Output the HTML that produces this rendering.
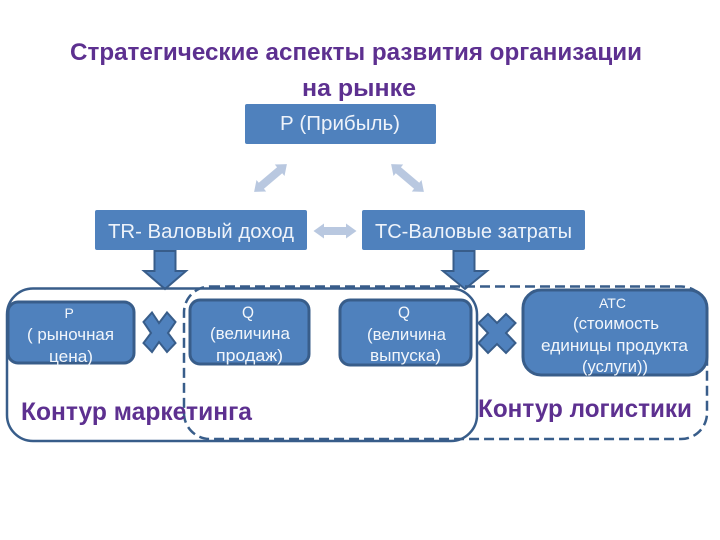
<!DOCTYPE html>
<html><head><meta charset="utf-8">
<style>
html,body{margin:0;padding:0;background:#fff}
svg{display:block}
text{font-family:"Liberation Sans","DejaVu Sans",sans-serif}
.t{font-weight:bold;fill:#5d3090;font-size:24px}
.h{font-weight:bold;fill:#5d3090;font-size:25px}
.w{fill:#eef3fa;font-size:20px}
.s{fill:#f2f6fb;font-size:16.5px}
.c{fill:#f2f6fb;font-size:14px}
.b{fill:#4f81bd;stroke:#385d8a;stroke-width:3}
.a{fill:#4f81bd;stroke:#385d8a;stroke-width:2}
.l{fill:#b9c8e0}
</style></head>
<body>
<svg width="720" height="540" viewBox="0 0 720 540" xmlns="http://www.w3.org/2000/svg">
<rect width="720" height="540" fill="#fff"/>
<text class="t" x="70" y="60" textLength="572" lengthAdjust="spacingAndGlyphs">Стратегические аспекты развития организации</text>
<text class="t" x="302" y="96" textLength="114" lengthAdjust="spacingAndGlyphs">на рынке</text>

<rect x="245" y="104" width="191" height="40" rx="2" fill="#4f81bd"/>
<rect x="95" y="210" width="212" height="40" rx="2" fill="#4f81bd"/>
<rect x="362" y="210" width="223" height="40" rx="2" fill="#4f81bd"/>
<text class="w" x="280" y="130" textLength="120" lengthAdjust="spacingAndGlyphs">Р (Прибыль)</text>
<text class="w" x="108" y="238" textLength="186" lengthAdjust="spacingAndGlyphs">TR- Валовый доход</text>
<text class="w" x="375" y="238" textLength="197" lengthAdjust="spacingAndGlyphs">TC-Валовые затраты</text>

<polygon class="l" transform="translate(270.500 178) rotate(-40.300)" points="-21.500,0 -12,-7.500 -12,-4 12,-4 12,-7.500 21.500,0 12,7.500 12,4 -12,4 -12,7.500"/>
<polygon class="l" transform="translate(407.500 178) rotate(40.300)" points="-21.500,0 -12,-7.500 -12,-4 12,-4 12,-7.500 21.500,0 12,7.500 12,4 -12,4 -12,7.500"/>
<polygon class="l" transform="translate(335 231)" points="-21.500,0 -11,-7.500 -11,-4 11,-4 11,-7.500 21.500,0 11,7.500 11,4 -11,4 -11,7.500"/>

<polygon class="a" points="154.500,251 175.500,251 175.500,271 186,271 165,289 144,271 154.500,271"/>
<polygon class="a" points="453.500,251 474.500,251 474.500,271 487,271 465,289 443,271 453.500,271"/>

<rect x="7" y="288.500" width="470" height="152.500" rx="26" fill="none" stroke="#385d8a" stroke-width="2.500"/>
<rect x="184" y="286.500" width="523" height="152.500" rx="26" fill="none" stroke="#385d8a" stroke-width="2.500" stroke-dasharray="10 5"/>

<rect class="b" x="8" y="302" width="126" height="61" rx="10"/>
<rect class="b" x="190" y="300" width="119" height="64" rx="10"/>
<rect class="b" x="340" y="300" width="131" height="65" rx="10"/>
<rect class="b" x="523" y="290" width="184" height="85" rx="18"/>

<polygon class="a" points="152,312.500 159,323 167,312.500 175.500,322 168,333 175.500,343 167,352 159,342 152,352 143.500,343 151,333 143.500,322"/>
<polygon class="a" points="488,314 497,323 506,314 515.500,323 506,333 515.500,343 506,353 497,344 488,353 478.500,343 488,333 478.500,323"/>

<text class="c" x="64.500" y="318">Р</text>
<text class="s" x="27" y="340" textLength="87" lengthAdjust="spacingAndGlyphs">( рыночная</text>
<text class="s" x="49" y="362" textLength="44" lengthAdjust="spacingAndGlyphs">цена)</text>

<text class="s" x="242" y="318" textLength="12" lengthAdjust="spacingAndGlyphs">Q</text>
<text class="s" x="210" y="339" textLength="80" lengthAdjust="spacingAndGlyphs">(величина</text>
<text class="s" x="216" y="361" textLength="67" lengthAdjust="spacingAndGlyphs">продаж)</text>

<text class="s" x="398" y="318" textLength="12" lengthAdjust="spacingAndGlyphs">Q</text>
<text class="s" x="367" y="340" textLength="79" lengthAdjust="spacingAndGlyphs">(величина</text>
<text class="s" x="370" y="361" textLength="71" lengthAdjust="spacingAndGlyphs">выпуска)</text>

<text class="c" x="599" y="308" textLength="27" lengthAdjust="spacingAndGlyphs">АТС</text>
<text class="s" x="573" y="329" textLength="86" lengthAdjust="spacingAndGlyphs">(стоимость</text>
<text class="s" x="541" y="351" textLength="147" lengthAdjust="spacingAndGlyphs">единицы продукта</text>
<text class="s" x="582" y="372" textLength="66" lengthAdjust="spacingAndGlyphs">(услуги))</text>

<text class="h" x="21" y="420" textLength="231" lengthAdjust="spacingAndGlyphs">Контур маркетинга</text>
<text class="h" x="478" y="417" textLength="214" lengthAdjust="spacingAndGlyphs">Контур логистики</text>
</svg>
</body></html>
